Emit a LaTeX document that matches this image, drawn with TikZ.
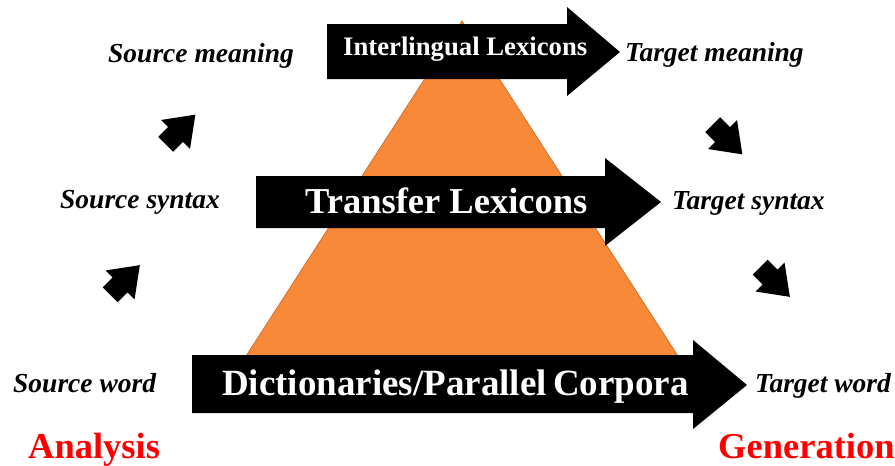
\documentclass[tikz,border=0pt]{standalone}
\usepackage{fontspec}
\setmainfont{Liberation Serif}
\definecolor{tri}{RGB}{247,137,56}
\definecolor{triedge}{RGB}{210,112,45}
\begin{document}
\begin{tikzpicture}[x=1pt,y=-1pt,
  lab/.style={font=\fontsize{27.5}{27.5}\selectfont\bfseries\itshape, anchor=base west, inner sep=0pt},
  bigtxt/.style={text=white, anchor=base west, inner sep=0pt},
  side/.style={font=\fontsize{36.5}{36.5}\selectfont\bfseries, text=red, anchor=base west, inner sep=0pt},
  blockarrow/.style={fill=black}]
\useasboundingbox (0,0) rectangle (895,466);
% triangle
\filldraw[fill=tri, draw=triedge, line width=0.8pt] (462,21) -- (237,370) -- (687,370) -- cycle;
% big arrows
\fill[blockarrow] (327,24) -- (567,24) -- (567,7) -- (620,52) -- (567,96) -- (567,79) -- (327,79) -- cycle;
\fill[blockarrow] (256,176) -- (605,176) -- (605,158) -- (661,202) -- (605,246) -- (605,228) -- (256,228) -- cycle;
\fill[blockarrow] (192,355) -- (693,355) -- (693,340) -- (747,385) -- (693,429) -- (693,413) -- (192,413) -- cycle;
% texts in arrows
\node[bigtxt, font=\fontsize{26.7}{26.7}\selectfont\bfseries] (inter) at (343,55) {Interlingual Lexicons};
\node[bigtxt, font=\fontsize{36.5}{36.5}\selectfont\bfseries] (transfer) at (305,213) {Transfer Lexicons};
\node[bigtxt, font=\fontsize{37}{37}\selectfont\bfseries] (dict) at (222,395) {Dictionaries/Parallel\hspace{0.17em}Corpora};
% small arrows
\foreach \px/\py/\a in {125/280/45, 180.5/129.5/45, 727.5/139.5/-45, 775/282/-45}{
  \begin{scope}[shift={(\px,\py)}, rotate=\a]
    \fill[blockarrow] (-21,-10.5) -- (-7,-10.5) -- (-7,-20.5) -- (21,0) -- (-7,20.5) -- (-7,10.5) -- (-21,10.5) -- cycle;
  \end{scope}
}
% labels
\node[lab] (smean) at (108,62) {Source meaning};
\node[lab] (ssyn) at (60,208) {Source syntax};
\node[lab] (sword) at (13,392) {Source word};
\node[lab] (tmean) at (625,61) {Target meaning};
\node[lab] (tsyn) at (672,209) {Target syntax};
\node[lab] (tword) at (755,392) {Target word};
\node[side] (ana) at (28,458) {Analysis};
\node[side] (gen) at (718,458) {Generation};
\end{tikzpicture}
\end{document}
